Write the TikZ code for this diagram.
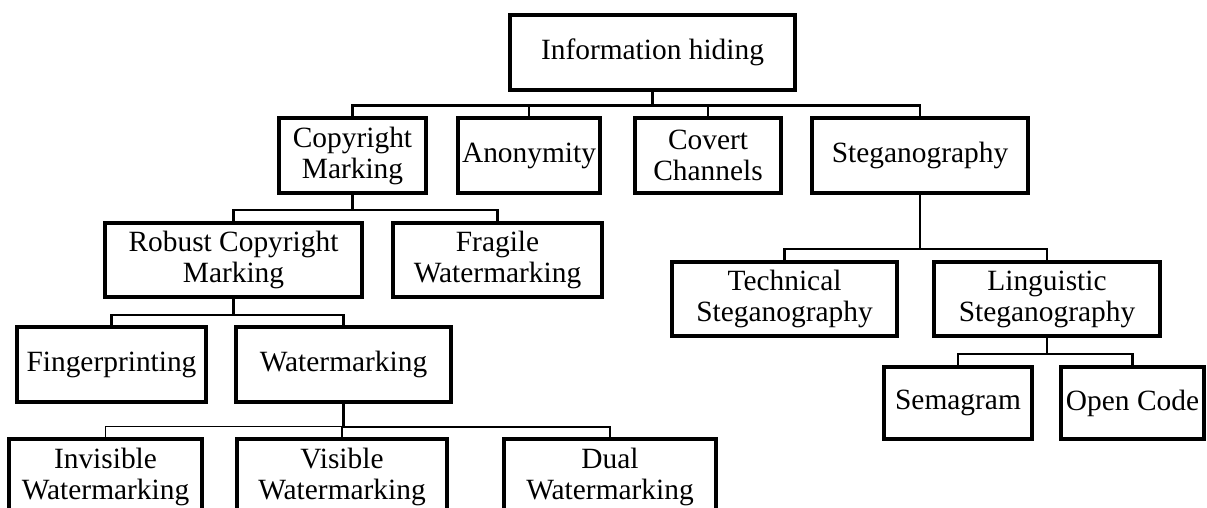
\documentclass[tikz,border=0pt]{standalone}
\usepackage{fontspec}
\setmainfont{Liberation Serif}
\begin{document}
\begin{tikzpicture}[x=1pt,y=-1pt,
  box/.style={draw, line width=3.5pt, align=center, inner sep=0pt,
    font=\fontsize{29.4}{31}\selectfont, minimum height=75pt},
  conn/.style={line width=2.5pt},
  thinconn/.style={line width=1.2pt}]
\useasboundingbox (0,0) rectangle (1207,508);
\clip (0,0) rectangle (1207,508);
% level 0
\node[box, minimum width=285pt] (info) at (652.5,52.5) {Information hiding};
% level 1
\node[box, minimum width=147pt] (copy) at (352.5,155.5) {Copyright\\Marking};
\node[box, minimum width=142pt] (anon) at (529,155.5) {Anonymity};
\node[box, minimum width=146pt] (covert) at (708,155.5) {Covert\\Channels};
\node[box, minimum width=216pt] (stego) at (920,155.5) {Steganography};
% level 2 left
\node[box, minimum width=257pt, minimum height=74pt] (robust) at (233.5,260) {Robust Copyright\\Marking};
\node[box, minimum width=209pt, minimum height=74pt] (fragile) at (497.5,260) {Fragile\\Watermarking};
% level 3 left
\node[box, minimum width=189pt] (finger) at (111.5,364.5) {Fingerprinting};
\node[box, minimum width=215pt] (water) at (343.5,364.5) {Watermarking};
% level 4 left
\node[box, minimum width=193pt] (invis) at (105.5,476.5) {Invisible\\Watermarking};
\node[box, minimum width=210pt] (visible) at (342,476.5) {Visible\\Watermarking};
\node[box, minimum width=212pt] (dual) at (610,476.5) {Dual\\Watermarking};
% right side
\node[box, minimum width=225pt, minimum height=74pt] (tech) at (784.5,299) {Technical\\Steganography};
\node[box, minimum width=226pt, minimum height=74pt] (ling) at (1047,299) {Linguistic\\Steganography};
\node[box, minimum width=148pt, minimum height=72pt] (sema) at (958,403) {Semagram};
\node[box, minimum width=143pt, minimum height=72pt] (open) at (1132.5,403) {Open Code};
% connectors
\foreach \c in {copy,anon,covert,stego}
  \draw[conn] (info.south) -- ++(0,14) -| (\c.north);
\foreach \c in {robust,fragile}
  \draw[conn] (copy.south) -- ++(0,15) -| (\c.north);
\foreach \c in {finger,water}
  \draw[conn] (robust.south) -- ++(0,16) -| (\c.north);
\draw[thinconn] (water.south) -- ++(0,23) -| (invis.north);
\foreach \c in {visible,dual}
  \draw[conn] (water.south) -- ++(0,23) -| (\c.north);
\foreach \c in {tech,ling}
  \draw[conn] (stego.south) -- ++(0,54) -| (\c.north);
\foreach \c in {sema,open}
  \draw[conn] (ling.south) -- ++(0,16) -| (\c.north);
\end{tikzpicture}
\end{document}
